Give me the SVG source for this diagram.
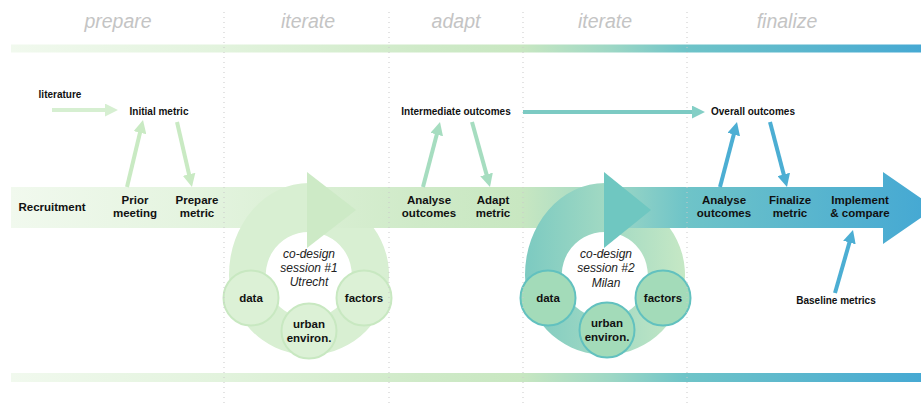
<svg xmlns="http://www.w3.org/2000/svg" width="921" height="403" viewBox="0 0 921 403">
<defs>
<linearGradient id="flow" gradientUnits="userSpaceOnUse" x1="11" y1="0" x2="921" y2="0">
<stop offset="0" stop-color="#f1f9ee"/>
<stop offset="0.23" stop-color="#e2f3dd"/>
<stop offset="0.45" stop-color="#cfeac8"/>
<stop offset="0.56" stop-color="#c8e7c1"/>
<stop offset="0.66" stop-color="#9dd7c5"/>
<stop offset="0.74" stop-color="#6fc4c8"/>
<stop offset="1" stop-color="#46a9d3"/>
</linearGradient>
<linearGradient id="ring2" x1="0" y1="0" x2="1" y2="0">
<stop offset="0" stop-color="#7ccac1"/>
<stop offset="1" stop-color="#c6e8c5"/>
</linearGradient>
<clipPath id="clip1"><path clip-rule="evenodd" d="M0,0 H921 V403 H0 Z M309,187 H921 V228 H309 Z"/></clipPath>
<clipPath id="clip2"><path clip-rule="evenodd" d="M0,0 H921 V403 H0 Z M605,187 H921 V228 H605 Z"/></clipPath>
<marker id="m-pale" viewBox="0 0 12 12" markerUnits="userSpaceOnUse" markerWidth="13" markerHeight="13" refX="4" refY="6" orient="auto"><path d="M0,0 L12,6 L0,12 Z" fill="#d6efd1"/></marker>
<marker id="m-lg" viewBox="0 0 12 12" markerUnits="userSpaceOnUse" markerWidth="13" markerHeight="13" refX="4" refY="6" orient="auto"><path d="M0,0 L12,6 L0,12 Z" fill="#c9eac3"/></marker>
<marker id="m-mint" viewBox="0 0 12 12" markerUnits="userSpaceOnUse" markerWidth="13" markerHeight="13" refX="4" refY="6" orient="auto"><path d="M0,0 L12,6 L0,12 Z" fill="#a6ddc0"/></marker>
<marker id="m-teal" viewBox="0 0 12 12" markerUnits="userSpaceOnUse" markerWidth="13" markerHeight="13" refX="4" refY="6" orient="auto"><path d="M0,0 L12,6 L0,12 Z" fill="#84cfc6"/></marker>
<marker id="m-blue" viewBox="0 0 12 12" markerUnits="userSpaceOnUse" markerWidth="13" markerHeight="13" refX="4" refY="6" orient="auto"><path d="M0,0 L12,6 L0,12 Z" fill="#4caed3"/></marker>
<style>
.phase{font-family:"Liberation Sans",Arial,Helvetica,sans-serif;font-style:italic;font-size:19.5px;fill:#c4c4c4;text-anchor:middle}
.lbl{font-family:"Liberation Sans",Arial,Helvetica,sans-serif;font-weight:bold;font-size:11.5px;fill:#111;text-anchor:middle}
.sm{font-family:"Liberation Sans",Arial,Helvetica,sans-serif;font-weight:bold;font-size:10px;fill:#111;text-anchor:middle}
.it{font-family:"Liberation Sans",Arial,Helvetica,sans-serif;font-style:italic;font-size:12px;fill:#222;text-anchor:middle}
.div{stroke:#c9c9c9;stroke-width:1;stroke-dasharray:1 4;fill:none}
.c1{fill:#dcf1d6;stroke:#c8e8c1;stroke-width:2}
.c2{fill:#a3dbb9;stroke:#62c1bf;stroke-width:2}
.arr{fill:none;stroke-width:4}
</style>
</defs>
<rect width="921" height="403" fill="#ffffff"/>

<g id="phases">
<text class="phase" x="118" y="28">prepare</text>
<text class="phase" x="308" y="28">iterate</text>
<text class="phase" x="456" y="28">adapt</text>
<text class="phase" x="605" y="28">iterate</text>
<text class="phase" x="787" y="28">finalize</text>
</g>

<g id="timeline">
<rect x="11" y="44.5" width="910" height="8" fill="url(#flow)"/>
<rect x="11" y="373" width="910" height="9" fill="url(#flow)"/>
<path d="M11,187 H883 V172 L935,208 L883,244 V228 H11 Z" fill="url(#flow)"/>
</g>

<g id="cycle1">
<path clip-path="url(#clip1)" d="M309,183 A80 92 0 0 0 229,275 A80 80 0 1 0 322.9,196.2 L316.5,232.7 A43 43 0 1 1 309,232 Z" fill="#d8efd2"/>
<polygon points="307,172 356,210 307,248" fill="#cdeac6"/>
<text class="it" x="309" y="258">co-design</text>
<text class="it" x="309" y="272">session #1</text>
<text class="it" x="309" y="286">Utrecht</text>
</g>
<g id="data1"><circle class="c1" cx="251" cy="298" r="27.5"/><text class="lbl" x="251" y="302">data</text></g>
<g id="factors1"><circle class="c1" cx="364" cy="298" r="27.5"/><text class="lbl" x="364" y="302">factors</text></g>
<g id="urban1"><circle class="c1" cx="309" cy="331" r="27.5"/><text class="lbl" x="309" y="328">urban</text><text class="lbl" x="309" y="342">environ.</text></g>

<g id="cycle2">
<path clip-path="url(#clip2)" d="M605,183 A80 92 0 0 0 525,275 A80 80 0 1 0 618.9,196.2 L612.5,232.7 A43 43 0 1 1 605,232 Z" fill="url(#ring2)"/>
<polygon points="604,172 651,210 604,248" fill="#6fc7c1"/>
<text class="it" x="606" y="258">co-design</text>
<text class="it" x="606" y="272">session #2</text>
<text class="it" x="606" y="287">Milan</text>
</g>
<g id="data2"><circle class="c2" cx="548" cy="298" r="27.5"/><text class="lbl" x="548" y="302">data</text></g>
<g id="factors2"><circle class="c2" cx="663" cy="298" r="27.5"/><text class="lbl" x="663" y="302">factors</text></g>
<g id="urban2"><circle class="c2" cx="607" cy="330" r="27.5"/><text class="lbl" x="607" y="327">urban</text><text class="lbl" x="607" y="341">environ.</text></g>

<g id="dividers">
<line class="div" x1="224" y1="12" x2="224" y2="403"/>
<line class="div" x1="389" y1="12" x2="389" y2="403"/>
<line class="div" x1="523" y1="12" x2="523" y2="403"/>
<line class="div" x1="687" y1="12" x2="687" y2="403"/>
</g>

<g id="recruitment"><text class="lbl" x="52" y="211">Recruitment</text></g>
<g id="prior-meeting"><text class="lbl" x="135" y="204">Prior</text><text class="lbl" x="135" y="217">meeting</text></g>
<g id="prepare-metric"><text class="lbl" x="197" y="204">Prepare</text><text class="lbl" x="197" y="217">metric</text></g>
<g id="literature"><text class="sm" x="60" y="98">literature</text></g>
<g id="initial-metric"><text class="sm" x="159" y="115">Initial metric</text></g>
<g id="analyse1"><text class="lbl" x="429" y="204">Analyse</text><text class="lbl" x="429" y="217">outcomes</text></g>
<g id="adapt-metric"><text class="lbl" x="493" y="204">Adapt</text><text class="lbl" x="493" y="217">metric</text></g>
<g id="intermediate"><text class="sm" x="456" y="115">Intermediate outcomes</text></g>
<g id="overall"><text class="sm" x="753" y="115">Overall outcomes</text></g>
<g id="analyse2"><text class="lbl" x="724" y="204">Analyse</text><text class="lbl" x="724" y="217">outcomes</text></g>
<g id="finalize-metric"><text class="lbl" x="790" y="204">Finalize</text><text class="lbl" x="790" y="217">metric</text></g>
<g id="implement"><text class="lbl" x="860" y="204">Implement</text><text class="lbl" x="860" y="217">&amp; compare</text></g>
<g id="baseline"><text class="sm" x="836" y="304">Baseline metrics</text></g>

<g id="connectors">
<line class="arr" x1="52" y1="110" x2="109.3" y2="110" stroke="#d6efd1" marker-end="url(#m-pale)"/>
<line class="arr" x1="127" y1="187" x2="141" y2="128.5" stroke="#c9eac3" marker-end="url(#m-lg)"/>
<line class="arr" x1="177" y1="122" x2="190" y2="178.5" stroke="#c9eac3" marker-end="url(#m-lg)"/>
<line class="arr" x1="423" y1="187" x2="437.8" y2="130.4" stroke="#a6ddc0" marker-end="url(#m-mint)"/>
<line class="arr" x1="472" y1="122" x2="487.7" y2="178.6" stroke="#a6ddc0" marker-end="url(#m-mint)"/>
<line class="arr" x1="523" y1="112" x2="696.3" y2="112" stroke="#7ccac3" stroke-width="3.5" marker-end="url(#m-teal)"/>
<line class="arr" x1="720" y1="187" x2="734.8" y2="130.4" stroke="#4caed3" marker-end="url(#m-blue)"/>
<line class="arr" x1="770" y1="122" x2="784.8" y2="178.6" stroke="#4caed3" marker-end="url(#m-blue)"/>
<line class="arr" x1="835" y1="293" x2="850.6" y2="238.4" stroke="#4caed3" marker-end="url(#m-blue)"/>
</g>
</svg>
